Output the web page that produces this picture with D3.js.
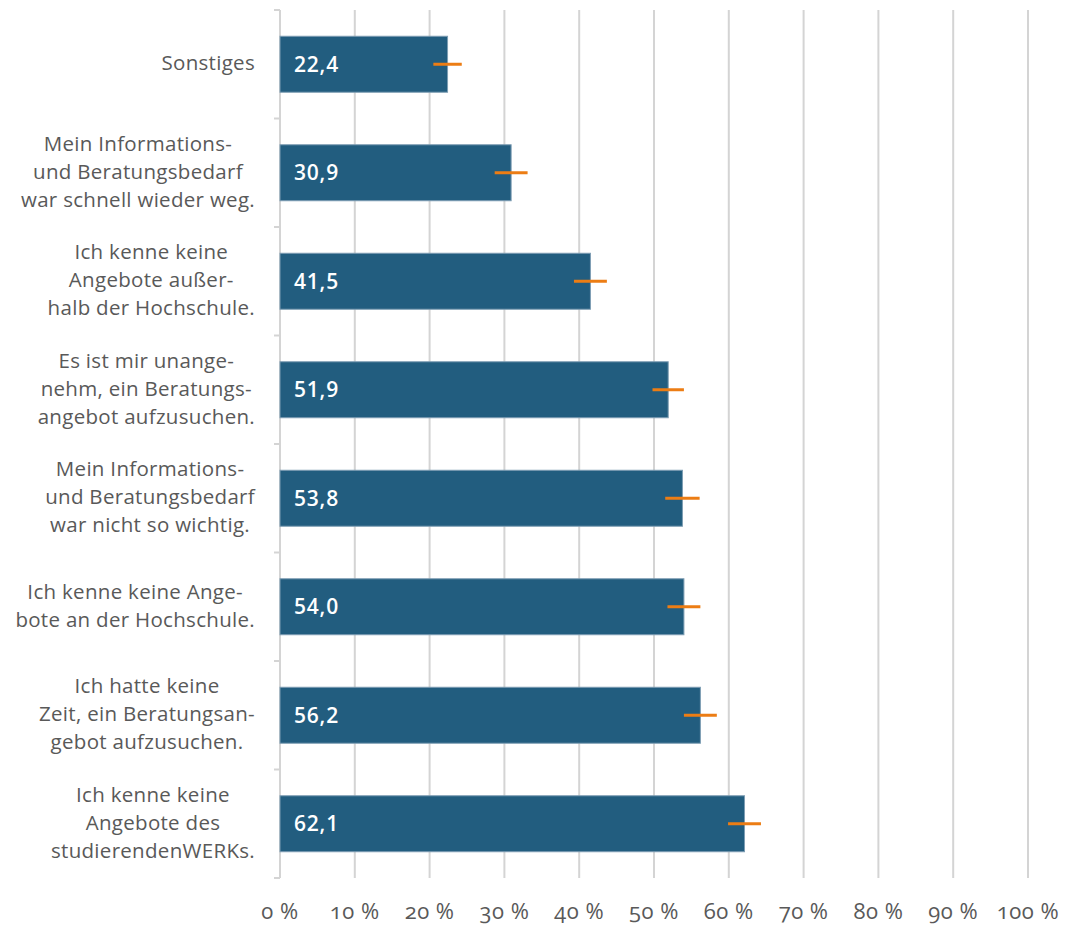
<!DOCTYPE html>
<head>
<meta charset="utf-8">
<title>Gründe gegen Beratung</title>
<script type="text/javascript" src="https://cdn.jsdelivr.net/npm/d3@7"></script>
<style>
body { margin: 0; background: #fff; }
text { font-family: "Open Sans", sans-serif; }
.cat text { fill: #595959; font-size: 20.5px; letter-spacing: 0.3px; }
.xaxis text { fill: #595959; font-size: 22px; letter-spacing: 0.5px; font-variant-numeric: oldstyle-nums; }
.val { fill: #fff; font-size: 21px; font-weight: 600; letter-spacing: 0.8px; }
</style>
</head>
<body>
<script>
// categories, top to bottom (lines as wrapped in the original)
var categories = [
	["Sonstiges"],
	["Mein Informations-", "und Beratungsbedarf", "war schnell wieder weg."],
	["Ich kenne keine", "Angebote außer-", "halb der Hochschule."],
	["Es ist mir unange-", "nehm, ein Beratungs-", "angebot aufzusuchen."],
	["Mein Informations-", "und Beratungsbedarf", "war nicht so wichtig."],
	["Ich kenne keine Ange-", "bote an der Hochschule."],
	["Ich hatte keine", "Zeit, ein Beratungsan-", "gebot aufzusuchen."],
	["Ich kenne keine", "Angebote des", "studierendenWERKs."]
];
var values = [22.4, 30.9, 41.5, 51.9, 53.8, 54.0, 56.2, 62.1];
var errors = [1.9, 2.2, 2.2, 2.1, 2.3, 2.2, 2.2, 2.2];
var ticks = [0, 10, 20, 30, 40, 50, 60, 70, 80, 90, 100];

var width = 1065, height = 927;
var mLeft = 280, mRight = 1028, mTop = 10, mBottom = 878;

var svg = d3.select("body").append("svg")
	.attr("width", width)
	.attr("height", height);

var x = d3.scaleLinear().domain([0, 100]).range([mLeft, mRight]);
var y = d3.scaleBand().domain(d3.range(values.length)).range([mTop, mBottom])
	.paddingInner(0.484).paddingOuter(0.242);

// grid lines
svg.selectAll("line.grid").data(ticks.slice(1)).enter().append("line")
	.attr("class", "grid")
	.attr("x1", function(d) { return x(d); })
	.attr("x2", function(d) { return x(d); })
	.attr("y1", mTop).attr("y2", mBottom)
	.style("stroke", "#d4d4d4")
	.style("stroke-width", 2);

// left axis with ticks at band boundaries
svg.append("line")
	.attr("x1", mLeft).attr("x2", mLeft)
	.attr("y1", mTop).attr("y2", mBottom)
	.style("stroke", "#d4d4d4").style("stroke-width", 2);
var step = y.step();
svg.selectAll("line.ytick").data(d3.range(values.length + 1)).enter().append("line")
	.attr("class", "ytick")
	.attr("x1", mLeft - 6).attr("x2", mLeft)
	.attr("y1", function(d) { return mTop + d * step; })
	.attr("y2", function(d) { return mTop + d * step; })
	.style("stroke", "#d4d4d4").style("stroke-width", 2);

// bars
svg.selectAll("rect.bar").data(values).enter().append("rect")
	.attr("class", "bar")
	.attr("x", x(0))
	.attr("y", function(d, i) { return y(i); })
	.attr("width", function(d) { return x(d) - x(0); })
	.attr("height", y.bandwidth())
	.style("fill", "#225d7f")
	.style("stroke", "#7d9db3")
	.style("stroke-width", 1);

// error bars
svg.selectAll("line.err").data(values).enter().append("line")
	.attr("class", "err")
	.attr("x1", function(d, i) { return x(d - errors[i]); })
	.attr("x2", function(d, i) { return x(d + errors[i]); })
	.attr("y1", function(d, i) { return y(i) + y.bandwidth() / 2; })
	.attr("y2", function(d, i) { return y(i) + y.bandwidth() / 2; })
	.style("stroke", "#ec7d14")
	.style("stroke-width", 3);

// value labels
svg.selectAll("text.val").data(values).enter().append("text")
	.attr("class", "val")
	.attr("x", x(0) + 14)
	.attr("y", function(d, i) { return y(i) + y.bandwidth() / 2; })
	.attr("dy", "0.35em")
	.text(function(d) { return d3.format(".1f")(d).replace(".", ","); });

// category labels: block right-aligned, lines centred in block
var lh = 28;
var cat = svg.append("g").attr("class", "cat");
categories.forEach(function(lines, i) {
	var g = cat.append("g");
	var cy = y(i) + y.bandwidth() / 2 - 1;
	var t = g.selectAll("text").data(lines).enter().append("text")
		.attr("y", function(d, j) { return cy + (j - (lines.length - 1) / 2) * lh; })
		.attr("dy", "0.35em")
		.attr("text-anchor", "middle")
		.text(function(d) { return d; });
	var maxW = d3.max(t.nodes(), function(n) { return n.getComputedTextLength(); });
	t.attr("x", 255 - maxW / 2);
});

// x tick labels
svg.append("g").attr("class", "xaxis")
	.selectAll("text").data(ticks).enter().append("text")
	.attr("x", function(d) { return x(d); })
	.attr("y", 919)
	.attr("text-anchor", "middle")
	.text(function(d) { return d + " %"; });
</script>
</body>
